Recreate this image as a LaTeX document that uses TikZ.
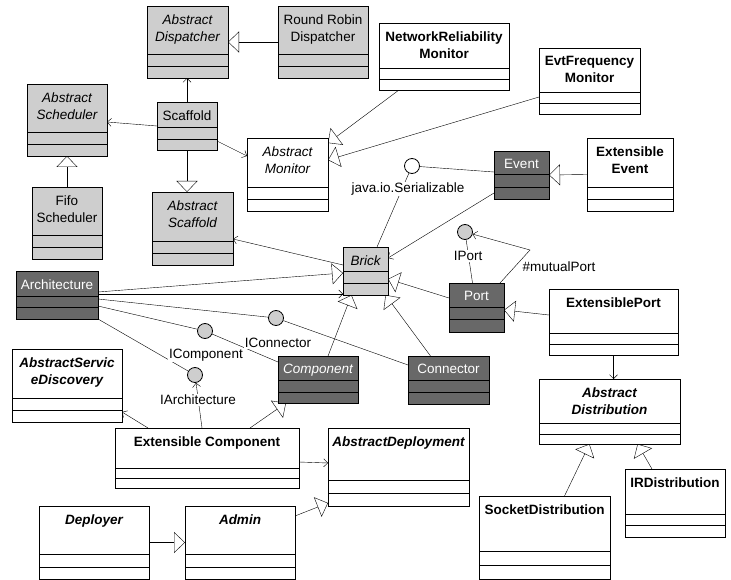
\documentclass[tikz,border=0pt]{standalone}
\usepackage{fontspec}
\setmainfont{Liberation Sans}
\usetikzlibrary{arrows.meta,calc,backgrounds}
\definecolor{lightfill}{RGB}{206,206,206}
\definecolor{darkfill}{RGB}{104,104,104}
\newcommand{\clsfont}{\fontsize{13.5}{17}\selectfont}
\tikzset{
  lightcls/.style={draw, fill=lightfill},
  darkcls/.style={draw, fill=darkfill, text=white},
  whitecls/.style={draw, fill=white},
  itname/.style={font=\clsfont\itshape},
  bfname/.style={font=\clsfont\bfseries},
  bfitname/.style={font=\clsfont\bfseries\itshape},
  gen/.style={-{Triangle[open,length=11pt,width=21pt]}},
  assoc/.style={-{Straight Barb[length=4pt,width=8pt]}},
  iface/.style={circle, draw, fill=lightfill, minimum size=15pt, inner sep=0},
  ilabel/.style={fill=white, inner sep=1pt},
}
\newcommand{\umlclass}[9]{%
  \node[#1, outer sep=0, inner sep=0, anchor=north west,
    minimum width={(#5-#3)*1pt}, minimum height={(#6-#4)*1pt}] (#2) at (#3,#4) {};
  \draw (#3,#7) -- (#5,#7) (#3,#8) -- (#5,#8);
  \node[#1, draw=none, fill=none, anchor=north, align=center, inner sep=0]
    (#2-name) at ({(#3+#5)/2},{#4+8}) {#9};
}
\begin{document}
\begin{tikzpicture}[x=1pt, y=-1pt, line width=0.8pt, font=\clsfont]
  \useasboundingbox (0,0) rectangle (731,580);
  \umlclass{lightcls,itname}{adisp}{147}{6}{228}{78}{54}{66}{Abstract\\Dispatcher}
  \umlclass{lightcls}{rrdisp}{278}{6}{368}{78}{54}{66}{Round Robin\\Dispatcher}
  \umlclass{lightcls,itname}{asched}{27}{84}{107}{156}{132}{144}{Abstract\\Scheduler}
  \umlclass{lightcls}{scaffold}{157}{102}{217}{150}{127}{139}{Scaffold}
  \umlclass{lightcls}{fifo}{32}{187}{102}{259}{235}{247}{Fifo\\Scheduler}
  \umlclass{lightcls,itname}{ascaffold}{152}{192}{233}{265}{241}{253}{Abstract\\Scaffold}
  \umlclass{whitecls,itname}{amon}{247}{138}{328}{211}{187}{199}{Abstract\\Monitor}
  \umlclass{whitecls,bfname}{nrmon}{379}{23}{509}{90}{68}{79}{NetworkReliability\\Monitor}
  \umlclass{whitecls,bfname}{efmon}{539}{48}{640}{114}{92}{103}{EvtFrequency\\Monitor}
  \umlclass{darkcls}{event}{494}{151}{549}{199}{174}{187}{Event}
  \umlclass{whitecls,bfname}{extevent}{587}{138}{673}{211}{187}{199}{Extensible\\Event}
  \umlclass{lightcls,itname}{brick}{343}{247}{388}{295}{271}{283}{Brick}
  \umlclass{darkcls}{arch}{16}{271}{98}{319}{296}{307}{Architecture}
  \umlclass{darkcls}{port}{449}{283}{504}{332}{307}{319}{Port}
  \umlclass{darkcls,itname}{component}{278}{356}{358}{403}{380}{392}{Component}
  \umlclass{darkcls}{connector}{408}{356}{489}{404}{380}{392}{Connector}
  \umlclass{whitecls,bfname}{extport}{549}{289}{678}{355}{333}{344}{ExtensiblePort}
  \umlclass{whitecls,bfitname}{adist}{539}{379}{680}{444}{423}{434}{Abstract\\Distribution}
  \umlclass{whitecls,bfname}{irdist}{625}{469}{725}{537}{514}{525}{IRDistribution}
  \umlclass{whitecls,bfname}{sockdist}{479}{496}{610}{579}{551}{565}{SocketDistribution}
  \umlclass{whitecls,bfitname}{asd}{12}{349}{122}{422}{398}{410}{AbstractServic\\eDiscovery}
  \umlclass{whitecls,bfname}{extcomp}{115}{428}{299}{488}{468}{478}{Extensible Component}
  \umlclass{whitecls,bfitname}{adeploy}{328}{428}{469}{506}{480}{493}{AbstractDeployment}
  \umlclass{whitecls,bfitname}{deployer}{39}{506}{149}{579}{554}{567}{Deployer}
  \umlclass{whitecls,bfitname}{admin}{185}{506}{295}{579}{554}{567}{Admin}

  \node[iface, fill=white] (ser) at (412,166) {};
  \node[ilabel] (serlbl) at (408,189) {java.io.Serializable};
  \node[iface] (iport) at (465,232) {};
  \node[ilabel] (iportlbl) at (468,256) {IPort};
  \node[ilabel] (mutual) at (559,267) {\#mutualPort};
  \coordinate (mbend) at (530,250);
  \node[iface] (iconn) at (276,318) {};
  \node[ilabel] (iconnlbl) at (278,343) {IConnector};
  \node[iface] (icomp) at (205,331) {};
  \node[ilabel] (icomplbl) at (206,355) {IComponent};
  \node[iface] (iarch) at (195,375) {};
  \node[ilabel] (iarchlbl) at (198,400) {IArchitecture};

  \begin{scope}[on background layer]
    \draw[gen] (rrdisp.west) -- (adisp.east);
    \draw[assoc] (scaffold.north) -- (scaffold.north |- adisp.south);
    \draw[assoc] (scaffold.west) -- ($(asched.east)+(0,2)$);
    \draw[assoc] ($(scaffold.south east)+(0,-9)$) -- ($(amon.north west)+(0,18)$);
    \draw[gen] (scaffold.south) -- (scaffold.south |- ascaffold.north);
    \draw[gen] (fifo.north) -- (asched.south);
    \draw[gen] ($(nrmon.south west)+(20,0)$) -- ($(amon.north east)+(0,5)$);
    \draw[gen] ($(efmon.north west)+(0,49)$) -- ($(amon.north east)+(0,22)$);
    \draw[gen] (extevent.west) -- (event.east);
    \draw ($(event.north west)+(0,21)$) -- (ser);
    \draw ($(brick.north)+(11.5,0)$) -- (ser);
    \draw[assoc] ($(event.south west)+(0,-6)$) -- ($(brick.north east)+(0,11)$);
    \draw[assoc] ($(brick.north west)+(0,18)$) -- ($(ascaffold.north east)+(0,47)$);
    \draw[gen] ($(arch.north east)+(0,21)$) -- ($(brick.north west)+(0,26)$);
    \draw[assoc] ($(arch.north east)+(0,23)$) -- ($(brick.south west)+(0,-1)$);
    \draw ($(arch.north east)+(0,28)$) -- (iconn) -- ($(connector.north west)+(0,9)$);
    \draw ($(arch.north east)+(0,35)$) -- (icomp) -- ($(component.north west)+(0,6)$);
    \draw (arch.south east) -- (iarch);
    \draw[assoc] ($(extcomp.north)+(-5,0)$) -- (iarch);
    \draw ($(port.north)+(-4,0)$) -- (iport);
    \draw[assoc] ($(port.north east)+(-4,0)$) -- (mbend) -- (iport);
    \draw[gen] ($(port.north west)+(0,15)$) -- ($(brick.north east)+(0,32)$);
    \draw[gen] ($(component.north)+(10,0)$) -- ($(brick.south)+(-14,0)$);
    \draw[gen] ($(connector.north)+(-18,0)$) -- ($(brick.south)+(20,0)$);
    \draw[gen] ($(extport.north west)+(0,26)$) -- ($(port.north east)+(0,27)$);
    \draw[assoc] (extport.south) -- (extport.south |- adist.north);
    \draw[gen] ($(sockdist.north)+(20,0)$) -- ($(adist.south)+(-20,0)$);
    \draw[gen] ($(irdist.north)+(-23,0)$) -- ($(adist.south)+(28,0)$);
    \draw[assoc] ($(extcomp.north west)+(33,0)$) -- ($(asd.south east)+(0,-10)$);
    \draw[gen] ($(extcomp.north east)+(-49,0)$) -- ($(component.south west)+(8,0)$);
    \draw[assoc] ($(extcomp.north east)+(0,34)$) -- ($(adeploy.north west)+(0,35)$);
    \draw[gen] (deployer.east) -- (admin.west);
    \draw[gen] ($(admin.north east)+(0,10)$) -- ($(adeploy.south west)+(0,-3)$);
  \end{scope}
\end{tikzpicture}
\end{document}
